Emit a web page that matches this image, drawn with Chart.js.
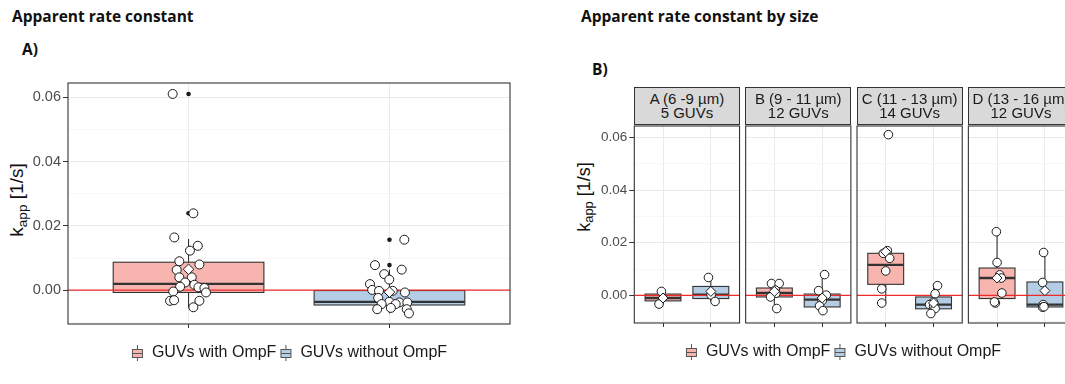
<!DOCTYPE html>
<html>
<head>
<meta charset="utf-8">
<script src="https://cdn.jsdelivr.net/npm/chart.js@4.4.1/dist/chart.umd.min.js"></script>
<style>
  html, body { margin: 0; padding: 0; background: #fff; width: 1065px; height: 384px; overflow: hidden; }
  .wrap { position: relative; width: 1065px; height: 384px; overflow: hidden; }
  canvas { position: absolute; }
  .title { position: absolute; font-family: 'Open Sans', sans-serif; font-weight: 700; font-size: 15.5px; line-height: 1; color: #111; white-space: nowrap; }
  .ytitle { position: absolute; font-family: 'Liberation Sans', Arial, sans-serif; color: #111; white-space: nowrap;
            transform: translate(-50%, -50%) rotate(-90deg); }
  .ytitle sub { font-size: 0.72em; vertical-align: -0.3em; }
  .strip { position: absolute; box-sizing: border-box; background: #d9d9d9; border: 1px solid #333;
           font-family: 'Liberation Sans', Arial, sans-serif; font-size: 15px; line-height: 14px; color: #1a1a1a;
           text-align: center; display: flex; flex-direction: column; justify-content: center; white-space: nowrap; }
</style>
</head>
<body>
<div class="wrap">
  <div class="title" style="left:12px; top:9px;">Apparent rate constant</div>
  <div class="title" style="left:22px; top:42px;">A)</div>
  <div class="title" style="left:581px; top:9px;">Apparent rate constant by size</div>
  <div class="title" style="left:592px; top:62px;">B)</div>
  <div class="ytitle" style="left:18px; top:200px; font-size:19px;">k<sub>app</sub> [1/s]</div>
  <div class="ytitle" style="left:585px; top:197px; font-size:18px;">k<sub>app</sub> [1/s]</div>
  <canvas id="chartA" width="530" height="301" style="left:0; top:70px;"></canvas>
  <canvas id="chartB" width="566" height="258" style="left:560px; top:112px;"></canvas>
  <div id="strips"></div>
</div>
<script>
// ---- data ----
const groups = ['GUVs with OmpF', 'GUVs without OmpF'];
const yMajor = [0, 0.02, 0.04, 0.06];
const yMinor = [-0.01, 0.01, 0.03, 0.05];
const yLimits = [-0.0105, 0.0644];

// box stats: [lower whisker, Q1, median, Q3, upper whisker]
const boxAll = [
  [-0.0055, -0.0007, 0.0020, 0.0087, 0.0159],
  [-0.0072, -0.0046, -0.0036, -0.0001, 0.0064]
];
const meanAll = [0.0065, -0.0006];
const outAll = [[0.0610, 0.0239], [0.0157, 0.0078]];
const withAll = [0.0610, 0.0239, 0.0164, 0.0138, 0.0123, 0.0090, 0.0080, 0.0063, 0.0040, 0.0040, 0.0024,
                 0.0011, 0.0017, 0.0009, 0.0007, -0.0007, -0.0004, -0.0033, -0.0031, -0.0033, -0.0053];
const withAllJit = [-0.079, 0.024, -0.071, 0.046, 0.007, -0.046, 0.054, -0.059, 0.016, -0.046, -0.017,
                    -0.042, 0.029, 0.049, 0.079, 0.087, -0.076, -0.092, -0.072, 0.054, 0.024];
const withoutAll = [0.0157, 0.0078, 0.0064, 0.0050, 0.0033, 0.0019, 0.0001, -0.0002, -0.0002, -0.0007,
                    -0.0024, -0.0036, -0.0038, -0.0043, -0.0038, -0.0043, -0.0059, -0.0055, -0.0059, -0.0072];
const withoutAllJit = [0.074, -0.072, 0.061, -0.026, -0.001, -0.097, -0.086, -0.052, 0.016, 0.077,
                       -0.056, -0.001, 0.049, 0.031, 0.089, -0.039, -0.061, 0.007, 0.086, 0.097];

const sizeBins = ['A (6 -9 µm)', 'B (9 - 11 µm)', 'C (11 - 13 µm)', 'D (13 - 16 µm)'];
const sizeCounts = ['5 GUVs', '12 GUVs', '14 GUVs', '12 GUVs'];
const boxWith = [
  [-0.0033, -0.0021, -0.0010, 0.0005, 0.0015],
  [-0.0050, -0.0006, 0.0009, 0.0028, 0.0046],
  [-0.0029, 0.0042, 0.0116, 0.0160, 0.0170],
  [-0.0029, -0.0012, 0.0066, 0.0104, 0.0242]
];
const boxWithout = [
  [-0.0023, -0.0012, 0.0003, 0.0034, 0.0068],
  [-0.0060, -0.0044, -0.0016, 0.0005, 0.0078],
  [-0.0069, -0.0051, -0.0035, -0.0006, 0.0037],
  [-0.0045, -0.0044, -0.0035, 0.0051, 0.0163]
];
const meanWith = [-0.0010, 0.0015, 0.0166, 0.0066];
const meanWithout = [0.0015, -0.0010, -0.0029, 0.0018];
const outWith = [[], [], [0.0611], []];
const outWithout = [[], [], [], []];
const withBySize = [
  [0.0015, -0.0033],
  [0.0045, 0.0045, 0.0020, 0.0008, -0.0006, -0.0050],
  [0.0611, 0.0170, 0.0160, 0.0141, 0.0093, 0.0025, -0.0029],
  [0.0242, 0.0125, 0.0078, 0.0066, 0.0009, -0.0029, -0.0025]
];
const withBySizeJit = [
  [-0.033, -0.083],
  [-0.06, 0.10, 0.02, 0.03, -0.08, 0.05],
  [0.056, 0.035, -0.05, 0.083, 0.0, -0.083, -0.083],
  [-0.015, 0.0, 0.054, 0.089, 0.10, -0.035, -0.055]
];
const withoutBySize = [
  [0.0068, 0.0002, -0.0023],
  [0.0079, 0.0018, 0.0001, -0.0020, -0.0040, -0.0058],
  [0.0037, 0.0006, -0.0025, -0.0035, -0.0042, -0.0050, -0.0069],
  [0.0163, 0.0049, -0.0035, -0.0045, -0.0043]
];
const withoutBySizeJit = [
  [-0.05, 0.006, 0.089],
  [0.05, -0.075, 0.085, 0.0, -0.055, 0.015],
  [0.083, 0.033, 0.0, -0.083, 0.0, 0.033, -0.056],
  [-0.027, -0.048, -0.035, -0.048, -0.02]
];

// ---- styling ----
const fills = ['#f8b5af', '#b4cde4'];
const FACET = 2.328;     // facet step along x (2.2 panel + strip gap)
const TAIL = 0.97;       // empty x range after the last facet (falls outside the window)
const INK = '#333333';

// boxes, facet frames and gaps drawn through the chart's scales
const boxPlugin = {
  id: 'boxes',
  beforeDatasetsDraw(chart, args, opts) {
    const {ctx, chartArea: a, scales: {x, y}} = chart;
    ctx.save();
    (opts.gaps || []).forEach(([g0, g1]) => {
      const l = x.getPixelForValue(g0), r = x.getPixelForValue(g1);
      ctx.fillStyle = '#fff';
      ctx.fillRect(l, a.top - 1, r - l, a.height + 2);
    });
    ctx.beginPath();
    ctx.rect(a.left, a.top, a.width, a.height);
    ctx.clip();
    opts.items.forEach(b => {
      const xc = x.getPixelForValue(b.x);
      const xl = x.getPixelForValue(b.x - opts.half);
      const xr = x.getPixelForValue(b.x + opts.half);
      const [lo, q1, med, q3, hi] = b.stats.map(v => y.getPixelForValue(v));
      ctx.strokeStyle = INK;
      ctx.lineWidth = 1.1;
      ctx.beginPath();
      ctx.moveTo(xc, q3); ctx.lineTo(xc, hi);
      ctx.moveTo(xc, q1); ctx.lineTo(xc, lo);
      ctx.stroke();
      ctx.fillStyle = b.fill;
      ctx.fillRect(xl, q3, xr - xl, q1 - q3);
      ctx.strokeRect(xl, q3, xr - xl, q1 - q3);
      ctx.lineWidth = 2.3;
      ctx.beginPath();
      ctx.moveTo(xl, med); ctx.lineTo(xr, med);
      ctx.stroke();
    });
    ctx.restore();
  },
  afterDatasetsDraw(chart, args, opts) {
    const {ctx, chartArea: a, scales: {x}} = chart;
    ctx.save();
    ctx.strokeStyle = INK;
    ctx.lineWidth = 1.1;
    opts.panels.forEach(([p0, p1]) => {
      const l = x.getPixelForValue(p0), r = x.getPixelForValue(p1);
      ctx.strokeRect(l, a.top, r - l, a.height);
    });
    ctx.restore();
  }
};

function keyGlyph(fill) {
  const c = document.createElement('canvas');
  c.width = 13; c.height = 16;
  const g = c.getContext('2d');
  g.strokeStyle = '#555';
  g.lineWidth = 1;
  g.beginPath(); g.moveTo(6.5, 0); g.lineTo(6.5, 16); g.stroke();
  g.fillStyle = fill;
  g.fillRect(1.5, 4.5, 10, 8);
  g.strokeRect(1.5, 4.5, 10, 8);
  g.beginPath(); g.moveTo(1.5, 8.5); g.lineTo(11.5, 8.5); g.stroke();
  return c;
}
const glyphs = fills.map(keyGlyph);

function dots(xc, vals, jit, r) {
  return {
    data: vals.map((v, i) => ({x: xc + jit[i], y: v})),
    pointRadius: r, pointBackgroundColor: '#fff', pointBorderColor: '#1a1a1a', pointBorderWidth: 1,
    order: 2
  };
}
function outliers(xc, vals, r) {
  return {
    data: vals.map(v => ({x: xc, y: v})),
    pointRadius: r, pointBackgroundColor: '#1a1a1a', pointBorderWidth: 0, order: 3
  };
}
function meanMark(xc, v, r) {
  return {
    data: [{x: xc, y: v}], pointStyle: 'rectRot',
    pointRadius: r, pointBackgroundColor: '#fff', pointBorderColor: '#1a1a1a', pointBorderWidth: 1, order: 1
  };
}
function zeroLine(x0, x1) {
  return {
    data: [{x: x0, y: 0}, {x: x1, y: 0}], showLine: true, borderColor: '#ee2b2b', borderWidth: 1.2,
    pointRadius: 0, order: 4
  };
}

function panelChart(canvas, cfg) {
  const yTicks = yMinor.concat(yMajor).sort((a, b) => a - b);
  return new Chart(canvas, {
    type: 'scatter',
    data: {datasets: cfg.datasets},
    options: {
      responsive: false, animation: false, events: [],
      layout: {padding: cfg.padding},
      scales: {
        x: {
          type: 'linear', min: cfg.xMin, max: cfg.xMax,
          afterBuildTicks: s => { s.ticks = cfg.xTicks.map(v => ({value: v})); },
          afterFit: s => { s.height = cfg.xAxisHeight; },
          ticks: {callback: () => '', autoSkip: false},
          grid: {color: '#ebebeb', lineWidth: 1, tickColor: INK, tickLength: 4},
          border: {display: false}
        },
        y: {
          type: 'linear', min: yLimits[0], max: yLimits[1],
          afterBuildTicks: s => { s.ticks = yTicks.map(v => ({value: v})); },
          afterFit: s => { s.width = cfg.yAxisWidth; },
          ticks: {
            autoSkip: false, padding: 2, color: '#4d4d4d',
            font: {family: 'Liberation Sans', size: cfg.tickSize},
            callback: v => yMajor.includes(v) ? v.toFixed(2) : ''
          },
          grid: {
            color: c => yMajor.includes(c.tick.value) ? '#e9e9e9' : '#f4f4f4',
            lineWidth: c => yMajor.includes(c.tick.value) ? 1 : 0.7,
            tickColor: c => yMajor.includes(c.tick.value) ? INK : 'rgba(0,0,0,0)',
            tickLength: 5
          },
          border: {display: false}
        }
      },
      plugins: {
        tooltip: {enabled: false},
        legend: {
          position: 'bottom', fullSize: cfg.legendFull,
          labels: {
            usePointStyle: true, boxWidth: 13, boxHeight: 13, padding: 3, color: '#1a1a1a',
            font: {family: 'Liberation Sans', size: 16},
            generateLabels: () => groups.map((g, i) => ({
              text: g, pointStyle: glyphs[i], fillStyle: fills[i], strokeStyle: '#555',
              lineWidth: 0, hidden: false, datasetIndex: i, fontColor: '#1a1a1a'
            }))
          }
        },
        boxes: {items: cfg.boxes, half: 0.375, panels: cfg.panels, gaps: cfg.gaps}
      }
    },
    plugins: [boxPlugin]
  });
}

// ---- panel A: all GUVs ----
const dsA = [zeroLine(0.4, 2.6)];
[[withAll, withAllJit], [withoutAll, withoutAllJit]].forEach(([vals, jit], g) => {
  dsA.push(outliers(g + 1, outAll[g], 2.3));
  dsA.push(dots(g + 1, vals, jit, 4.5));
  dsA.push(meanMark(g + 1, meanAll[g], 5.3));
});
panelChart(document.getElementById('chartA'), {
  datasets: dsA,
  xMin: 0.4, xMax: 2.6, xTicks: [1, 2],
  padding: {top: 13, right: 20, bottom: 0, left: 0},
  yAxisWidth: 68, xAxisHeight: 18, tickSize: 14.5, legendFull: false,
  boxes: boxAll.map((s, g) => ({x: g + 1, stats: s, fill: fills[g]})),
  panels: [[0.4, 2.6]], gaps: []
});

// ---- panel B: by size ----
const dsB = [];
const boxesB = [], panelsB = [], gapsB = [], xTicksB = [];
const lastB = (sizeBins.length - 1) * FACET + 2.6;
sizeBins.forEach((bin, f) => {
  const o = f * FACET;
  panelsB.push([o + 0.4, o + 2.6]);
  gapsB.push([o + 2.6, f < sizeBins.length - 1 ? o + FACET + 0.4 : lastB + TAIL]);
  xTicksB.push(o + 1, o + 2);
  dsB.push(zeroLine(o + 0.4, o + 2.6));
  boxesB.push({x: o + 1, stats: boxWith[f], fill: fills[0]});
  boxesB.push({x: o + 2, stats: boxWithout[f], fill: fills[1]});
  dsB.push(outliers(o + 1, outWith[f], 2.1));
  dsB.push(outliers(o + 2, outWithout[f], 2.1));
  dsB.push(dots(o + 1, withBySize[f], withBySizeJit[f], 4.3));
  dsB.push(dots(o + 2, withoutBySize[f], withoutBySizeJit[f], 4.3));
  dsB.push(meanMark(o + 1, meanWith[f], 5));
  dsB.push(meanMark(o + 2, meanWithout[f], 5));
});
const chartB = panelChart(document.getElementById('chartB'), {
  datasets: dsB,
  xMin: 0.4, xMax: lastB + TAIL, xTicks: xTicksB,
  padding: {top: 14, right: 0, bottom: 0, left: 0},
  yAxisWidth: 74.3, xAxisHeight: 18, tickSize: 13.5, legendFull: true,
  boxes: boxesB, panels: panelsB, gaps: gapsB
});

// facet strips placed from the chart's own x scale
const stripHost = document.getElementById('strips');
const bx = chartB.scales.x;
sizeBins.forEach((bin, f) => {
  const [p0, p1] = panelsB[f];
  const l = 560 + bx.getPixelForValue(p0), r = 560 + bx.getPixelForValue(p1);
  const d = document.createElement('div');
  d.className = 'strip';
  d.style.left = (l - 0.5) + 'px';
  d.style.width = (r - l + 1) + 'px';
  d.style.top = '87px';
  d.style.height = '38px';
  d.innerHTML = '<div>' + bin + '</div><div>' + sizeCounts[f] + '</div>';
  stripHost.appendChild(d);
});
</script>
</body>
</html>
